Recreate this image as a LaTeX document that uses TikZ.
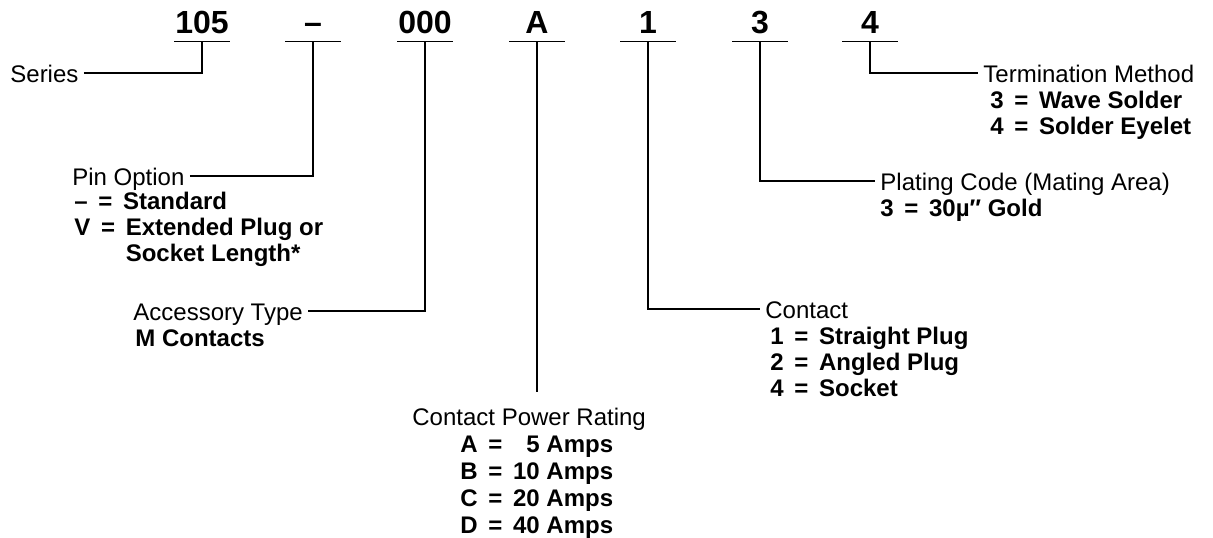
\documentclass[tikz,border=0pt]{standalone}
\usepackage{fontspec}
\setmainfont{Liberation Sans}
\usetikzlibrary{positioning,calc}
\newcommand{\iseq}{\,=\,}
\tikzset{
  code/.style  ={font=\fontsize{16}{18}\selectfont\bfseries, inner sep=0pt,
                 text depth=4pt, minimum width=27.5pt, anchor=base},
  head/.style  ={font=\fontsize{12}{13}\selectfont, inner xsep=2.5pt, inner ysep=0pt,
                 text height=9pt, text depth=0pt, anchor=base west},
  vals/.style  ={font=\fontsize{12}{13}\selectfont\bfseries, inner sep=0pt,
                 align=left, anchor=base west},
  lead/.style  ={line width=0.9pt},
}

\begin{document}
\begin{tikzpicture}[x=0.5pt,y=-0.5pt]
    \useasboundingbox (0,0) rectangle (1213,537);
    % --- part number ---
    \foreach \nm/\xx/\txt in {c105/202/105, cdash/313/–, c000/425/000, cA/537/A,
                              c1/648/1, c3/760/3, c4/870/4}{
        \node[code] (\nm) at (\xx,33) {\txt};
        \draw[lead] (\nm.south west) -- (\nm.south east);
    }
    % --- left side (multi-line values sit on their last baseline) ---
    \node[head] (series) at (5,82) {Series};
    \node[head] (pin) at (67,185) {Pin Option};
    \node[vals] (pinv) at (74,261) {– \iseq{} Standard\\V \iseq{} Extended Plug or\\\phantom{V \iseq{} }Socket Length*};
    \node[head] (acc) at (128,320) {Accessory Type};
    \node[vals] (accv) at (135,346) {M Contacts};
    % --- bottom ---
    \node[head] (cpr) at (407,425) {Contact Power Rating};
    \node[vals,font=\fontsize{12}{13.5}\selectfont\bfseries] (cprv) at (460,533)
        {A \iseq{} \phantom{1}5 Amps\\B \iseq{} 10 Amps\\C \iseq{} 20 Amps\\D \iseq{} 40 Amps};
    % --- right side ---
    \node[head] (contact) at (760,318) {Contact};
    \node[vals] (contactv) at (770,396) {1 \iseq{} Straight Plug\\2 \iseq{} Angled Plug\\4 \iseq{} Socket};
    \node[head] (plating) at (875,190) {Plating Code (Mating Area)};
    \node[vals] (platingv) at (880,216) {3 \iseq{} 30µ″ Gold};
    \node[head] (term) at (978,82) {Termination Method};
    \node[vals] (termv) at (990,134) {3 \iseq{} Wave Solder\\4 \iseq{} Solder Eyelet};
    % --- leaders ---
    \draw[lead] (series.east) -| (c105.south);
    \draw[lead] (pin.east) -| (cdash.south);
    \draw[lead] (acc.east) -| (c000.south);
    \draw[lead,shorten >=7.5pt] (cA.south) -- (cA.south |- cpr.north);
    \draw[lead] (c1.south) |- (contact.west);
    \draw[lead] (c3.south) |- (plating.west);
    \draw[lead] (c4.south) |- (term.west);
\end{tikzpicture}
\end{document}
